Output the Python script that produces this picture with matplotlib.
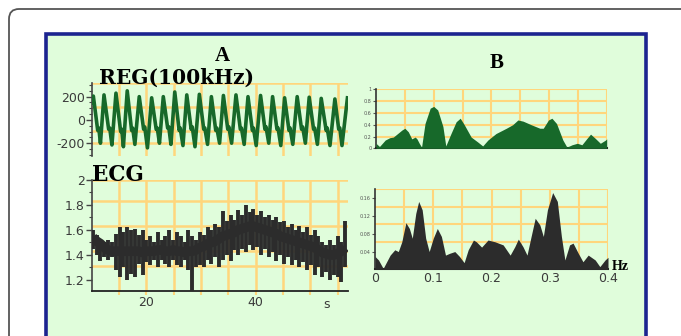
import matplotlib
matplotlib.use("Agg")
import matplotlib.pyplot as plt
from matplotlib.patches import FancyBboxPatch, Rectangle

plt.rcParams["axes.unicode_minus"] = False

W, H = 681, 336

# ---------------- data ----------------
reg_t = [10.0, 10.3,
         11.1, 11.3, 11.6, 12.25,
         13.1, 13.3, 13.7, 14.44,
         15.3, 15.5, 15.8, 16.5,
         17.3, 17.5, 17.9, 18.7,
         19.5, 19.7, 20.2, 20.97,
         21.8, 22.0, 22.4, 23.1,
         23.9, 24.1, 24.5, 25.2,
         26.0, 26.2, 26.7, 27.4,
         28.2, 28.4, 28.9, 29.7,
         30.5, 30.7, 31.2, 31.9,
         32.7, 32.9, 33.4, 34.1,
         34.9, 35.1, 35.6, 36.4,
         37.2, 37.4, 37.9, 38.6,
         39.4, 39.6, 40.1, 40.9,
         41.7, 41.9, 42.4, 43.1,
         43.9, 44.1, 44.6, 45.3,
         46.1, 46.3, 46.8, 47.6,
         48.4, 48.6, 49.1, 49.8,
         50.6, 50.8, 51.3, 52.0,
         52.9, 53.1, 53.6, 54.5,
         55.2, 55.4, 55.8, 56.8]
reg_v = [150, 205,
         -90, -70, -200, 215,
         -80, -70, -215, 230,
         -100, -80, -230, 250,
         -90, -70, -210, 200,
         -80, -60, -240, 190,
         -80, -70, -200, 200,
         -70, -60, -210, 240,
         -90, -70, -220, 215,
         -80, -60, -230, 220,
         -80, -70, -210, 200,
         -90, -70, -200, 210,
         -80, -60, -200, 215,
         -80, -70, -210, 200,
         -90, -70, -220, 210,
         -80, -60, -200, 200,
         -80, -70, -220, 190,
         -90, -70, -210, 200,
         -80, -60, -200, 195,
         -80, -70, -210, 185,
         -90, -70, -220, 180,
         -80, -70, -220, 190]

ecg_t = [10.2, 10.9, 11.6, 12.3, 13.0, 13.7, 14.4, 15.1, 15.8, 16.5, 17.2, 17.9,
         18.6, 19.3, 20.0, 20.7, 21.4, 22.1, 22.8, 23.5, 24.2, 24.9, 25.6, 26.3,
         27.0, 27.7, 28.4, 29.1, 29.8, 30.5, 31.2, 31.9, 32.6, 33.3, 34.0, 34.7,
         35.4, 36.1, 36.8, 37.5, 38.2, 38.9, 39.6, 40.3, 41.0, 41.7, 42.4, 43.1,
         43.8, 44.5, 45.2, 45.9, 46.6, 47.3, 48.0, 48.7, 49.4, 50.1, 50.8, 51.5,
         52.2, 52.9, 53.6, 54.3, 55.0, 55.7, 56.4]
ecg_mid = [1.54, 1.51, 1.49, 1.46, 1.44, 1.43, 1.43, 1.43, 1.43, 1.43, 1.43, 1.43,
           1.43, 1.42, 1.43, 1.43, 1.43, 1.44, 1.44, 1.43, 1.43, 1.44, 1.43, 1.43,
           1.42, 1.43, 1.43, 1.44, 1.46, 1.47, 1.49, 1.50, 1.51, 1.53, 1.55, 1.56,
           1.57, 1.58, 1.60, 1.61, 1.62, 1.63, 1.63, 1.62, 1.61, 1.60, 1.59, 1.58,
           1.57, 1.55, 1.54, 1.53, 1.52, 1.51, 1.50, 1.49, 1.48, 1.47, 1.46, 1.44,
           1.42, 1.41, 1.40, 1.40, 1.41, 1.43, 1.46]
ecg_hi = [1.60, 1.56, 1.53, 1.50, 1.52, 1.50, 1.57, 1.62, 1.58, 1.62, 1.60, 1.61,
          1.56, 1.60, 1.52, 1.55, 1.50, 1.58, 1.52, 1.55, 1.60, 1.52, 1.58, 1.55,
          1.50, 1.60, 1.55, 1.52, 1.58, 1.56, 1.62, 1.60, 1.65, 1.62, 1.75, 1.67,
          1.72, 1.68, 1.76, 1.72, 1.80, 1.74, 1.77, 1.72, 1.75, 1.70, 1.72, 1.68,
          1.70, 1.66, 1.67, 1.62, 1.65, 1.60, 1.63, 1.58, 1.62, 1.56, 1.60, 1.55,
          1.50, 1.48, 1.52, 1.48, 1.55, 1.50, 1.67]
ecg_lo = [1.45, 1.40, 1.35, 1.38, 1.36, 1.38, 1.28, 1.22, 1.30, 1.20, 1.25, 1.22,
          1.33, 1.24, 1.34, 1.32, 1.36, 1.30, 1.36, 1.33, 1.30, 1.36, 1.32, 1.30,
          1.36, 1.28, 1.10, 1.30, 1.32, 1.30, 1.36, 1.33, 1.38, 1.30, 1.36, 1.40,
          1.35, 1.44, 1.40, 1.45, 1.42, 1.48, 1.44, 1.46, 1.40, 1.45, 1.38, 1.42,
          1.35, 1.40, 1.33, 1.38, 1.32, 1.36, 1.30, 1.34, 1.28, 1.32, 1.24, 1.30,
          1.22, 1.26, 1.20, 1.24, 1.22, 1.18, 1.30]

reg_spec_f = [0.0, 0.006, 0.016, 0.024, 0.030, 0.045, 0.050, 0.056, 0.062, 0.068,
              0.071, 0.075, 0.079, 0.085, 0.094, 0.100, 0.107, 0.116, 0.121, 0.130,
              0.139, 0.146, 0.153, 0.165, 0.176, 0.185, 0.194, 0.208, 0.226, 0.237,
              0.246, 0.255, 0.269, 0.284, 0.290, 0.299, 0.305, 0.313, 0.324, 0.331,
              0.340, 0.349, 0.357, 0.366, 0.372, 0.380, 0.389, 0.398, 0.400]
reg_spec_v = [0.085, 0.03, 0.14, 0.18, 0.19, 0.31, 0.34, 0.28, 0.16, 0.19,
              0.16, 0.085, 0.02, 0.42, 0.68, 0.71, 0.65, 0.37, 0.04, 0.25,
              0.45, 0.51, 0.40, 0.19, 0.11, 0.04, 0.14, 0.25, 0.34, 0.40,
              0.48, 0.46, 0.40, 0.34, 0.34, 0.48, 0.51, 0.42, 0.14, 0.02,
              0.06, 0.085, 0.06, 0.17, 0.24, 0.17, 0.085, 0.14, 0.16]

ecg_spec_f = [0.0, 0.006, 0.014, 0.026, 0.034, 0.040, 0.046, 0.053, 0.059, 0.064,
              0.070, 0.075, 0.081, 0.087, 0.093, 0.100, 0.107, 0.114, 0.121, 0.128,
              0.137, 0.145, 0.153, 0.160, 0.169, 0.174, 0.183, 0.194, 0.206, 0.220,
              0.232, 0.240, 0.246, 0.254, 0.261, 0.268, 0.275, 0.283, 0.289, 0.296,
              0.305, 0.313, 0.320, 0.326, 0.334, 0.340, 0.349, 0.357, 0.366, 0.378,
              0.386, 0.395, 0.400]
ecg_spec_v = [0.029, 0.021, 0.002, 0.032, 0.044, 0.040, 0.062, 0.105, 0.092, 0.070,
              0.126, 0.153, 0.134, 0.070, 0.040, 0.070, 0.092, 0.074, 0.032, 0.036,
              0.040, 0.029, 0.015, 0.044, 0.066, 0.062, 0.050, 0.066, 0.062, 0.055,
              0.032, 0.051, 0.068, 0.051, 0.032, 0.074, 0.115, 0.100, 0.074, 0.134,
              0.173, 0.153, 0.074, 0.021, 0.055, 0.059, 0.036, 0.017, 0.032, 0.021,
              0.006, 0.021, 0.027]

reg_ticks = [-200, 0, 200]
ecg_ticks = [1.2, 1.4, 1.6, 1.8, 2.0]
ecg_tick_labels = ["1.2", "1.4", "1.6", "1.8", "2"]
time_ticks = [20, 40]
spec1_ticks = [0, 0.2, 0.4, 0.6, 0.8, 1.0]
spec1_labels = ["0", "0.2", "0.4", "0.6", "0.8", "1"]
spec2_ticks = [0.04, 0.08, 0.12, 0.16]
spec2_labels = ["0.04", "0.08", "0.12", "0.16"]
freq_ticks = [0, 0.1, 0.2, 0.3, 0.4]
freq_labels = ["0", "0.1", "0.2", "0.3", "0.4"]

# ---------------- styles ----------------
GRID = "#ffd67c"
GREEN = "#17692a"
DARK = "#2c2c2c"
TXT = "#3a3a3a"
SERIF = ["Liberation Serif", "DejaVu Serif"]
WIDE_SERIF = ["DejaVu Serif"]

fig = plt.figure(figsize=(W / 100, H / 100), dpi=100)
fig.patch.set_facecolor("white")

bg = fig.add_axes([0, 0, 1, 1])
bg.set_xlim(0, W)
bg.set_ylim(H, 0)
bg.axis("off")
bg.add_patch(FancyBboxPatch((9, 9), 720, 400, boxstyle="round,pad=0,rounding_size=10",
                            fc="white", ec="#555555", lw=1.3))
bg.add_patch(Rectangle((46, 34), 600, 330, fc="#e0fddb", ec="#1c2490", lw=2.6))


def ax_px(x0, y0, x1, y1):
    a = fig.add_axes([x0 / W, 1 - y1 / H, (x1 - x0) / W, (y1 - y0) / H])
    a.patch.set_alpha(0)
    return a


def ftext(x, y, s, **kw):
    fig.text(x / W, 1 - y / H, s, **kw)


# ---- A: REG ----
ax1 = ax_px(91.7, 82.7, 348, 156)
ax1.set_xlim(10, 56.9)
ax1.set_ylim(-310, 320)
for yv in [320, 110, -95, -200]:
    ax1.axhline(yv, color=GRID, lw=1.8, zorder=0)
for xv in range(15, 60, 5):
    ax1.axvline(xv, color=GRID, lw=1.8, zorder=0)
ax1.plot(reg_t, reg_v, color=GREEN, lw=2.6, zorder=3, solid_joinstyle="round")
for s in ["top", "right", "bottom"]:
    ax1.spines[s].set_visible(False)
ax1.spines["left"].set_color("#444444")
ax1.spines["left"].set_linewidth(1.2)
ax1.set_xticks([])
ax1.set_yticks(reg_ticks)
ax1.set_yticks(range(-300, 301, 50), minor=True)
ax1.tick_params(axis="y", which="major", length=4, width=1, colors="#444444",
                labelcolor=TXT, labelsize=9, pad=1)
ax1.tick_params(axis="y", which="minor", length=2, width=0.8, colors="#444444")

# ---- A: ECG ----
ax2 = ax_px(91.7, 180, 348, 290.7)
ax2.set_xlim(10, 56.9)
ax2.set_ylim(1.114, 2.0)
for yv in [2.0, 1.83, 1.63, 1.43, 1.31]:
    ax2.axhline(yv, color=GRID, lw=1.8, zorder=0)
for xv in range(15, 60, 5):
    ax2.axvline(xv, color=GRID, lw=1.8, zorder=0)
ax2.vlines(ecg_t, ecg_lo, ecg_hi, color=DARK, lw=2.8, zorder=3)
ax2.plot(ecg_t, ecg_mid, color=DARK, lw=7, zorder=3, solid_capstyle="butt")
for s in ["top", "right"]:
    ax2.spines[s].set_visible(False)
ax2.spines["left"].set_color("#444444")
ax2.spines["left"].set_linewidth(1.2)
ax2.spines["bottom"].set_color("#222222")
ax2.spines["bottom"].set_linewidth(1.3)
ax2.set_yticks(ecg_ticks)
ax2.set_yticklabels(ecg_tick_labels)
ax2.set_yticks([1.2, 1.3, 1.4, 1.5, 1.6, 1.7, 1.8, 1.9, 2.0], minor=True)
ax2.tick_params(axis="y", which="major", length=4, width=1, colors="#444444",
                labelcolor=TXT, labelsize=9, pad=1)
ax2.tick_params(axis="y", which="minor", length=2, width=0.8, colors="#444444")
ax2.set_xticks(time_ticks)
ax2.set_xticks(range(15, 60, 5), minor=True)
ax2.tick_params(axis="x", which="both", length=3, width=1.5, colors=GRID,
                labelcolor=TXT, labelsize=9, pad=1)

# ---- B: REG spectrum ----
ax3 = ax_px(376, 89.3, 606.7, 148.3)
ax3.set_xlim(0, 0.4)
ax3.set_ylim(0, 1.0)
for yv in [0.2, 0.4, 0.6, 0.8, 1.0]:
    ax3.axhline(yv, color=GRID, lw=1.5, zorder=0)
for k in range(1, 9):
    ax3.axvline(0.05 * k, color=GRID, lw=1.5, zorder=0)
ax3.fill_between(reg_spec_f, 0, reg_spec_v, color=GREEN, lw=0, zorder=3)
for s in ["top", "right"]:
    ax3.spines[s].set_visible(False)
ax3.spines["left"].set_color("#333333")
ax3.spines["left"].set_linewidth(1.2)
ax3.spines["bottom"].set_color("#222222")
ax3.spines["bottom"].set_linewidth(1.5)
ax3.set_xticks([])
ax3.set_yticks(spec1_ticks)
ax3.set_yticklabels(spec1_labels)
ax3.tick_params(axis="y", length=2, width=0.8, colors="#555555", labelsize=3.5, pad=1)

# ---- B: ECG spectrum ----
ax4 = ax_px(375, 189, 608, 269.3)
ax4.set_xlim(0, 0.4)
ax4.set_ylim(0, 0.181)
for yv in [0.181, 0.141, 0.101, 0.062]:
    ax4.axhline(yv, color=GRID, lw=1.5, zorder=0)
for k in range(1, 9):
    ax4.axvline(0.05 * k, color=GRID, lw=1.5, zorder=0)
ax4.fill_between(ecg_spec_f, 0, ecg_spec_v, color=DARK, lw=0, zorder=3)
for s in ["top", "right"]:
    ax4.spines[s].set_visible(False)
ax4.spines["left"].set_color("#333333")
ax4.spines["left"].set_linewidth(1.2)
ax4.spines["bottom"].set_color("#222222")
ax4.spines["bottom"].set_linewidth(1.5)
ax4.set_yticks(spec2_ticks)
ax4.set_yticklabels(spec2_labels)
ax4.tick_params(axis="y", length=2, width=0.8, colors="#555555", labelsize=3.5, pad=1)
ax4.set_xticks(freq_ticks)
ax4.set_xticklabels(freq_labels)
ax4.tick_params(axis="x", length=0, labelcolor=TXT, labelsize=9, pad=2)

# ---- texts ----
ftext(222.7, 56, "A", family=SERIF, weight="bold", fontsize=15, ha="center", va="center")
ftext(99, 78, "REG(100kHz)", family=WIDE_SERIF, weight="bold", fontsize=14.5,
      ha="left", va="center")
ftext(92, 175, "ECG", family=WIDE_SERIF, weight="bold", fontsize=15.5, ha="left", va="center")
ftext(496.7, 63, "B", family=SERIF, weight="bold", fontsize=15, ha="center", va="center")
ftext(620, 266, "Hz", family=SERIF, weight="bold", fontsize=10, ha="center", va="center")
ftext(327, 305, "s", fontsize=9, color=TXT, ha="center", va="center")

fig.savefig("out.png", dpi=100, facecolor="white")
